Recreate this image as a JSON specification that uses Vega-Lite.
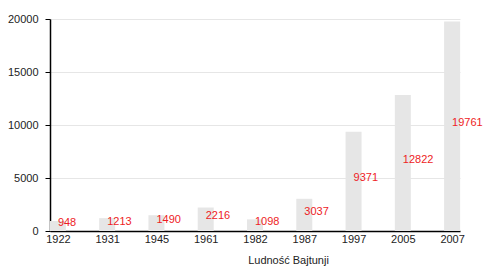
{
  "$schema": "https://vega.github.io/schema/vega-lite/v6.json",
  "autosize": "none",
  "padding": {"left": 50, "top": 19, "right": 40, "bottom": 39},
  "width": 410,
  "height": 212,
  "background": "white",
  "config": {
    "view": {"stroke": null},
    "font": "Liberation Sans"
  },
  "data": {
    "values": [
      {"year": "1922", "pop": 948},
      {"year": "1931", "pop": 1213},
      {"year": "1945", "pop": 1490},
      {"year": "1961", "pop": 2216},
      {"year": "1982", "pop": 1098},
      {"year": "1987", "pop": 3037},
      {"year": "1997", "pop": 9371},
      {"year": "2005", "pop": 12822},
      {"year": "2007", "pop": 19761}
    ]
  },
  "layer": [
    {
      "mark": {"type": "bar", "width": 16, "color": "#e6e6e6"},
      "encoding": {
        "x": {
          "field": "year", "type": "ordinal",
          "scale": {"type": "point", "padding": 0.16},
          "axis": {
            "title": "Ludność Bajtunji", "titleFont": "Liberation Sans", "titleFontSize": 11,
            "titleFontWeight": "normal", "titleColor": "#222", "titleX": 238, "titlePadding": 10,
            "labelAngle": 0, "labelFont": "Liberation Sans", "labelFontSize": 11, "labelColor": "#222",
            "ticks": false, "labelPadding": 2, "domainColor": "#000", "domainWidth": 1.5
          }
        },
        "y": {
          "field": "pop", "type": "quantitative",
          "scale": {"domain": [0, 20000], "nice": false},
          "axis": {
            "title": null, "values": [0, 5000, 10000, 15000, 20000], "format": "d",
            "labelFont": "Liberation Sans", "labelFontSize": 11, "labelColor": "#222",
            "tickColor": "#000", "tickSize": 5, "labelPadding": 7,
            "domainColor": "#000", "domainWidth": 1.5,
            "gridColor": "#e6e6e6", "gridWidth": 1
          }
        }
      }
    },
    {
      "mark": {"type": "text", "align": "left", "baseline": "alphabetic", "color": "#ee1c25", "fontSize": 11, "font": "Liberation Sans", "dy": 0},
      "encoding": {
        "x": {"field": "year", "type": "ordinal", "scale": {"type": "point", "padding": 0.16}},
        "y": {"field": "pop", "type": "quantitative", "scale": {"domain": [0, 40000], "nice": false}, "axis": null},
        "text": {"field": "pop", "type": "quantitative", "format": "d"}
      }
    }
  ],
  "resolve": {"scale": {"y": "independent"}}
}
